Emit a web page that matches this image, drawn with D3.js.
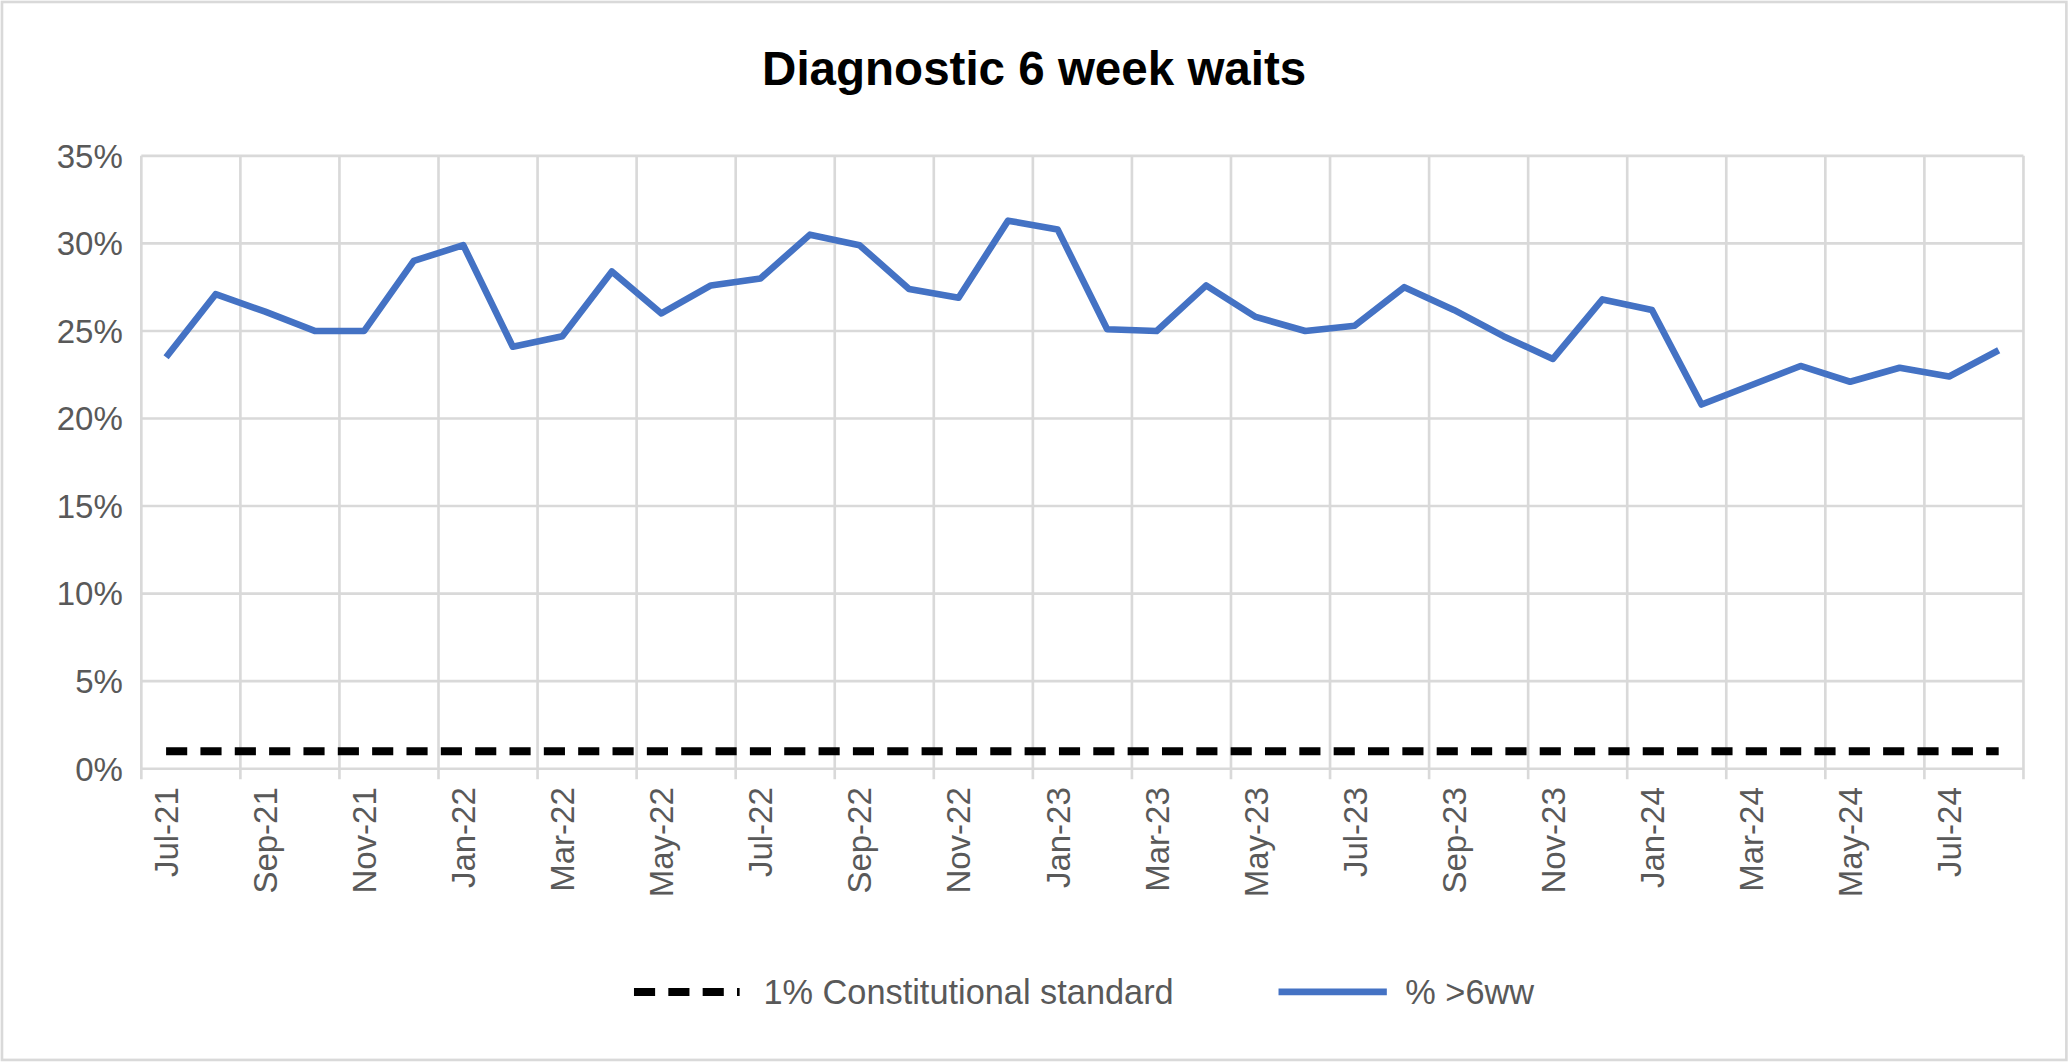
<!DOCTYPE html>
<html><head><meta charset="utf-8">
<script src="https://cdn.jsdelivr.net/npm/d3@7"></script>
<style>body{margin:0;background:#fff;font-family:Arial,"Liberation Sans",sans-serif}</style>
</head><body>
<script>
const months = ["Jul-21","Aug-21","Sep-21","Oct-21","Nov-21","Dec-21","Jan-22","Feb-22","Mar-22","Apr-22","May-22","Jun-22","Jul-22","Aug-22","Sep-22","Oct-22","Nov-22","Dec-22","Jan-23","Feb-23","Mar-23","Apr-23","May-23","Jun-23","Jul-23","Aug-23","Sep-23","Oct-23","Nov-23","Dec-23","Jan-24","Feb-24","Mar-24","Apr-24","May-24","Jun-24","Jul-24","Aug-24"];
const pctOver6 = [23.5,27.1,26.1,25.0,25.0,29.0,29.9,24.1,24.7,28.4,26.0,27.6,28.0,30.5,29.9,27.4,26.9,31.3,30.8,25.1,25.0,27.6,25.8,25.0,25.3,27.5,26.2,24.7,23.4,26.8,26.2,20.8,21.9,23.0,22.1,22.9,22.4,23.9];
const standard = months.map(() => 1);
const yTicks = [0,5,10,15,20,25,30,35];

// layout was measured on a 1568px-wide copy, scale up to the window
const k = 2071 / 1568;
const svg = d3.select("body").append("svg").attr("width",2071).attr("height",1063)
    .append("g").attr("transform",`scale(${k})`);
svg.append("rect").attr("x",1.5).attr("y",1.5).attr("width",1563).attr("height",801)
    .attr("fill","#fff").attr("stroke","#d9d9d9").attr("stroke-width",2);

const margin = {left:107, right:1532, top:118, bottom:582};
const x = d3.scaleBand(months, [margin.left, margin.right]);
const y = d3.scaleLinear([0,35], [margin.bottom, margin.top]);

// grid
svg.append("g").selectAll("line").data(yTicks).join("line")
    .attr("x1",margin.left).attr("x2",margin.right)
    .attr("y1",d=>y(d)).attr("y2",d=>y(d))
    .attr("stroke","#d9d9d9").attr("stroke-width",2);
svg.append("g").selectAll("line").data(months.filter((m,i)=>i%2==0).concat(["end"])).join("line")
    .attr("x1",(d)=>d=="end"?margin.right:x(d)).attr("x2",(d)=>d=="end"?margin.right:x(d))
    .attr("y1",margin.top).attr("y2",margin.bottom+8)
    .attr("stroke","#d9d9d9").attr("stroke-width",2);

svg.append("g").selectAll("text").data(yTicks).join("text")
    .attr("x",93).attr("y",d=>y(d)+9).attr("text-anchor","end")
    .attr("font-size",25).attr("fill","#595959").text(d=>d+"%");

svg.append("g").selectAll("text").data(months.filter((m,i)=>i%2==0)).join("text")
    .attr("transform",d=>`translate(${x(d)+x.bandwidth()/2+9},${margin.bottom+14}) rotate(-90)`)
    .attr("text-anchor","end").attr("font-size",25).attr("fill","#595959").text(d=>d);

const cx = d=>x(d)+x.bandwidth()/2;
svg.append("path").datum(standard)
    .attr("d",d3.line().x((d,i)=>cx(months[i])).y(d=>y(d)))
    .attr("fill","none").attr("stroke","#000").attr("stroke-width",6).attr("stroke-dasharray","16,10");
svg.append("path").datum(pctOver6)
    .attr("d",d3.line().x((d,i)=>cx(months[i])).y(d=>y(d)))
    .attr("fill","none").attr("stroke","#4472C4").attr("stroke-width",5).attr("stroke-linejoin","round");

svg.append("text").attr("x",783).attr("y",64).attr("text-anchor","middle")
    .attr("font-size",36).attr("font-weight","bold").text("Diagnostic 6 week waits");

// legend
svg.append("line").attr("x1",480).attr("x2",560).attr("y1",751).attr("y2",751)
    .attr("stroke","#000").attr("stroke-width",6).attr("stroke-dasharray","16,10");
svg.append("text").attr("x",578).attr("y",760).attr("font-size",26).attr("fill","#595959").text("1% Constitutional standard");
svg.append("line").attr("x1",968).attr("x2",1050).attr("y1",751).attr("y2",751)
    .attr("stroke","#4472C4").attr("stroke-width",5);
svg.append("text").attr("x",1064).attr("y",760).attr("font-size",26).attr("fill","#595959").text("% >6ww");
</script>
</body></html>
